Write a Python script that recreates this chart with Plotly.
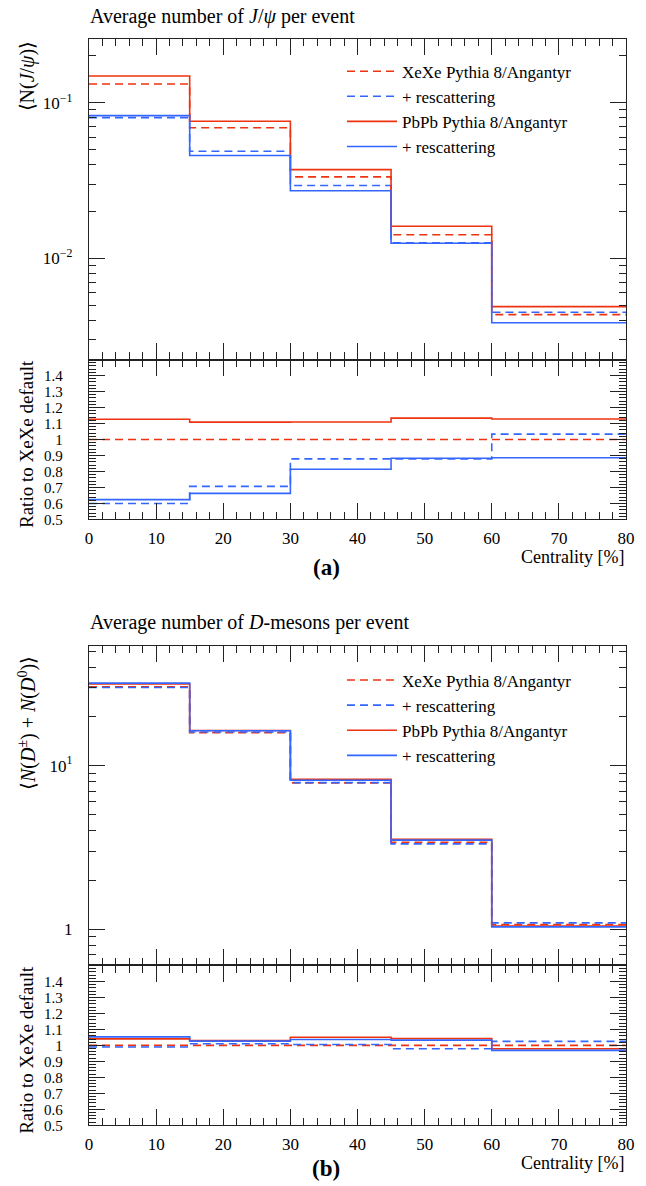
import plotly.graph_objects as go

W, H = 646, 1186
FONT = "Liberation Serif"
RED = "#EE3311"
BLUE = "#3366FF"
FRAME = "#222222"

# ---------------- data ----------------
edges = [0, 15, 30, 45, 60, 80]

# (a) J/psi per event
jpsi_xexe = [0.132, 0.069, 0.0334, 0.0142, 0.00435]
jpsi_xexe_resc = [0.0802, 0.0488, 0.0294, 0.0126, 0.00451]
jpsi_pbpb = [0.1486, 0.0760, 0.0372, 0.0161, 0.0049]
jpsi_pbpb_resc = [0.0826, 0.0458, 0.0272, 0.0125, 0.00386]

ratio_a_xexe = [1.0, 1.0, 1.0, 1.0, 1.0]
ratio_a_xexe_resc = [0.600, 0.707, 0.879, 0.879, 1.034]
ratio_a_pbpb = [1.127, 1.109, 1.110, 1.134, 1.128]
ratio_a_pbpb_resc = [0.624, 0.663, 0.814, 0.883, 0.886]

# (b) D-mesons per event
d_xexe = [30.3, 15.9, 7.85, 3.40, 1.07]
d_xexe_resc = [30.0, 16.05, 7.88, 3.33, 1.097]
d_pbpb = [31.6, 16.4, 8.25, 3.55, 1.047]
d_pbpb_resc = [31.9, 16.35, 8.14, 3.51, 1.037]

ratio_b_xexe = [1.0, 1.0, 1.0, 1.0, 1.0]
ratio_b_xexe_resc = [0.990, 1.010, 1.006, 0.979, 1.025]
ratio_b_pbpb = [1.041, 1.031, 1.051, 1.043, 0.979]
ratio_b_pbpb_resc = [1.053, 1.027, 1.037, 1.033, 0.969]

legend_names = ["XeXe Pythia 8/Angantyr", "+ rescattering",
                "PbPb Pythia 8/Angantyr", "+ rescattering"]
xtick_vals = [0, 10, 20, 30, 40, 50, 60, 70, 80]
ratio_tick_vals = [0.5, 0.6, 0.7, 0.8, 0.9, 1.0, 1.1, 1.2, 1.3, 1.4]
ratio_tick_text = ["0.5", "0.6", "0.7", "0.8", "0.9", "1", "1.1", "1.2", "1.3", "1.4"]
jpsi_tick_vals = [0.01, 0.1]
jpsi_tick_text = ["10<sup>\u22122</sup>", "10<sup>\u22121</sup>"]
d_tick_vals = [1, 10]
d_tick_text = ["1", "10<sup>1</sup>"]

styles = [(RED, "8px,5px"), (BLUE, "8px,5px"), (RED, "solid"), (BLUE, "solid")]


def dom(top_px, bottom_px):
    return [1 - bottom_px / H, 1 - top_px / H]


def step(vals):
    return list(vals) + [vals[-1]]


fig = go.Figure()

panels = [
    ("x", "y", [jpsi_xexe, jpsi_xexe_resc, jpsi_pbpb, jpsi_pbpb_resc], "legend"),
    ("x2", "y2", [ratio_a_xexe, ratio_a_xexe_resc, ratio_a_pbpb, ratio_a_pbpb_resc], None),
    ("x3", "y3", [d_xexe, d_xexe_resc, d_pbpb, d_pbpb_resc], "legend2"),
    ("x4", "y4", [ratio_b_xexe, ratio_b_xexe_resc, ratio_b_pbpb, ratio_b_pbpb_resc], None),
]

for xa, ya, series, leg in panels:
    for i, vals in enumerate(series):
        col, dash = styles[i]
        fig.add_trace(go.Scatter(
            x=edges, y=step(vals), mode="lines", line_shape="hv",
            line=dict(color=col, width=1.6, dash=dash),
            name=legend_names[i], xaxis=xa, yaxis=ya,
            showlegend=leg is not None, legend=leg if leg else "legend",
            hoverinfo="skip",
        ))

tickfont = dict(family=FONT, size=17, color="black")
ratiofont = dict(family=FONT, size=15, color="black")
common = dict(showline=True, linecolor=FRAME, linewidth=1.3, mirror="allticks",
              ticks="inside", ticklen=16, tickwidth=1, tickcolor=FRAME,
              showgrid=False, zeroline=False, tickfont=tickfont)

xcommon = dict(common, range=[0, 80], tickmode="array", tickvals=xtick_vals,
               minor=dict(dtick=2, tick0=0, ticklen=7, ticks="inside",
                          tickcolor=FRAME, showgrid=False))

log_minor_a = [m * 10.0 ** e for e in (-3, -2, -1) for m in range(2, 10)]
log_minor_b = [m * 10.0 ** e for e in (-1, 0, 1) for m in range(2, 10)]

legfont = dict(family=FONT, size=17, color="black")

fig.update_layout(
    width=W, height=H,
    margin=dict(l=89, r=20, t=0, b=0),
    paper_bgcolor="white", plot_bgcolor="white",
    font=dict(family=FONT, size=17, color="black"),
    xaxis=dict(xcommon, anchor="y", showticklabels=False),
    yaxis=dict(common, anchor="x", type="log", domain=dom(39.5, 362),
               range=[-2.65, -0.592], tickmode="array",
               tickvals=jpsi_tick_vals, ticktext=jpsi_tick_text,
               ticklabelstandoff=12,
               minor=dict(tickmode="array", tickvals=log_minor_a, ticklen=7,
                          ticks="inside", tickcolor=FRAME, showgrid=False)),
    xaxis2=dict(xcommon, anchor="y2", showticklabels=True, ticklabelstandoff=3),
    yaxis2=dict(common, anchor="x2", domain=dom(362, 523), range=[0.5, 1.5],
                tickmode="array", tickvals=ratio_tick_vals, ticktext=ratio_tick_text,
                ticklabelstandoff=22, tickfont=ratiofont,
                minor=dict(dtick=0.02, tick0=0.5, ticklen=7, ticks="inside",
                           tickcolor=FRAME, showgrid=False)),
    xaxis3=dict(xcommon, anchor="y3", showticklabels=False),
    yaxis3=dict(common, anchor="x3", type="log", domain=dom(650, 972),
                range=[-0.22, 1.733], tickmode="array",
                tickvals=d_tick_vals, ticktext=d_tick_text,
                ticklabelstandoff=12,
                minor=dict(tickmode="array", tickvals=log_minor_b, ticklen=7,
                           ticks="inside", tickcolor=FRAME, showgrid=False)),
    xaxis4=dict(xcommon, anchor="y4", showticklabels=True, ticklabelstandoff=3),
    yaxis4=dict(common, anchor="x4", domain=dom(972, 1133), range=[0.5, 1.5],
                tickmode="array", tickvals=ratio_tick_vals, ticktext=ratio_tick_text,
                ticklabelstandoff=22, tickfont=ratiofont,
                minor=dict(dtick=0.02, tick0=0.5, ticklen=7, ticks="inside",
                           tickcolor=FRAME, showgrid=False)),
    legend=dict(x=(342 - 89) / 537, y=1 - 54 / H, xanchor="left", yanchor="top",
                bgcolor="rgba(0,0,0,0)", font=legfont,
                itemwidth=50, tracegroupgap=0),
    legend2=dict(x=(342 - 89) / 537, y=1 - 667 / H, xanchor="left", yanchor="top",
                 bgcolor="rgba(0,0,0,0)", font=legfont,
                 itemwidth=50, tracegroupgap=0),
)


def xp(px):
    return (px - 89) / 537


def yp(py):
    return 1 - py / H


ann = []
for off, title, ytitle, ycen, lab, cy, ly in [
    (0, "Average number of <i>J</i>/<i>\u03c8</i> per event",
     "\u27e8N(<i>J</i>/<i>\u03c8</i>)\u27e9", 77, "(a)", 561, 571),
    (610, "Average number of <i>D</i>-mesons per event",
     "\u27e8<i>N</i>(<i>D</i><sup>\u00b1</sup>) + <i>N</i>(<i>D</i><sup>0</sup>)\u27e9",
     728, "(b)", 1171, 1176),
]:
    ann.append(dict(text=title, x=xp(88), y=yp(17 + off), xanchor="left", yanchor="middle",
                    font=dict(family=FONT, size=20)))
    ann.append(dict(text=ytitle, x=xp(27), y=yp(ycen),
                    xanchor="center", yanchor="middle", textangle=-90,
                    font=dict(family=FONT, size=20)))
    ann.append(dict(text="Ratio to XeXe default", x=xp(27), y=yp(447 + off),
                    xanchor="center", yanchor="middle", textangle=-90,
                    font=dict(family=FONT, size=19)))
    ann.append(dict(text="Centrality [%]", x=1, y=yp(cy), xanchor="right",
                    yanchor="middle", font=dict(family=FONT, size=18)))
    ann.append(dict(text="<b>" + lab + "</b>", x=xp(326), y=yp(ly),
                    xanchor="center", yanchor="middle", font=dict(family=FONT, size=23)))

for a in ann:
    a.update(xref="paper", yref="paper", showarrow=False)
fig.update_layout(annotations=ann)

fig.write_html("out.html")
